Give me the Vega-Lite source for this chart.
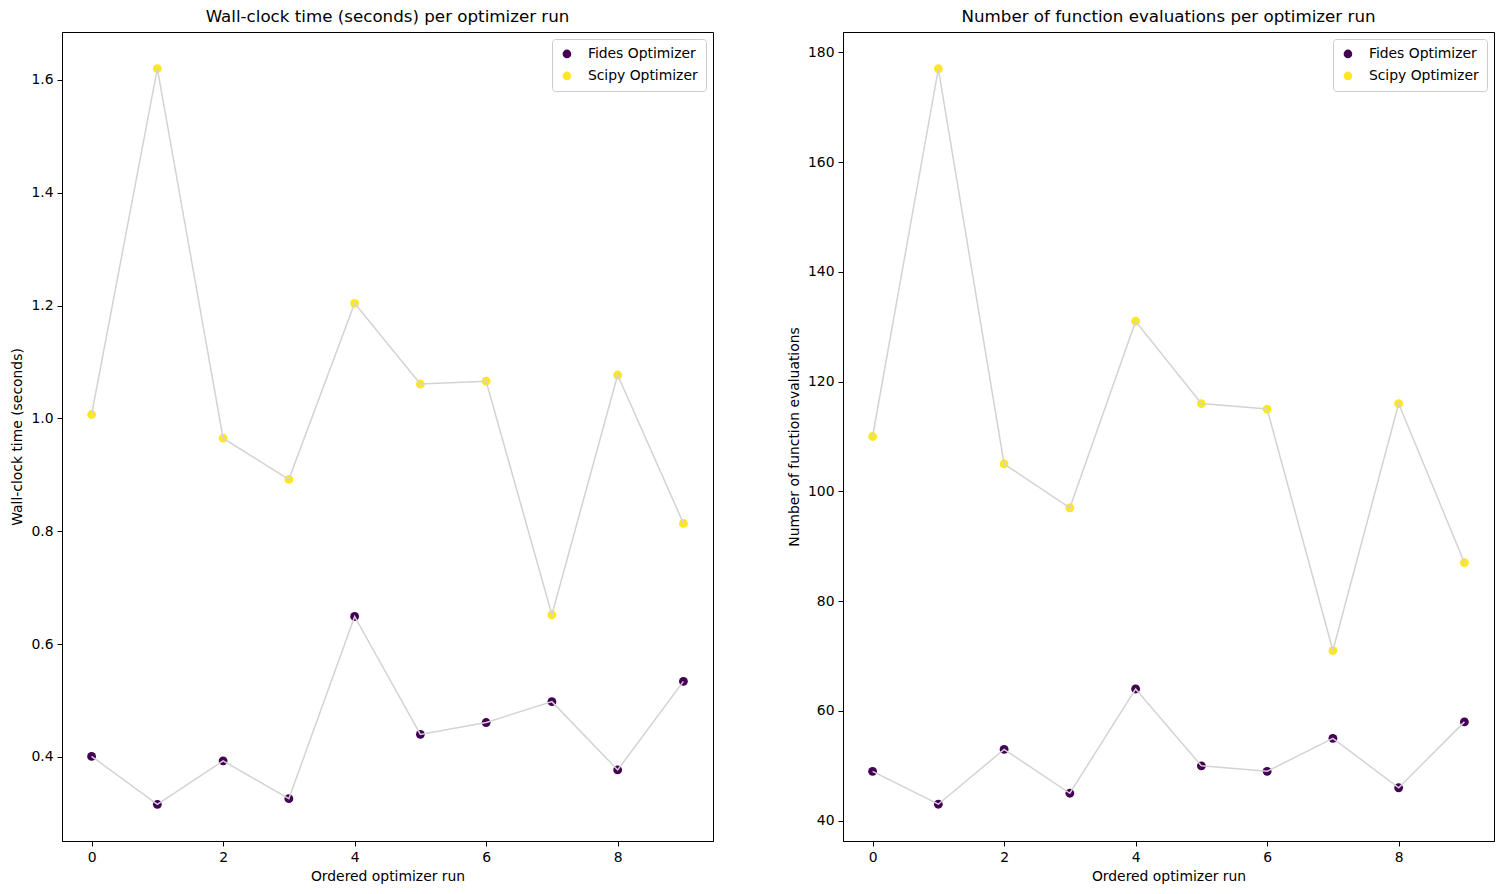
{
  "$schema": "https://vega.github.io/schema/vega-lite/v6.json",
  "padding": {"left": 10, "top": 8, "right": 8, "bottom": 8},
  "background": "white",
  "config": {
    "font": "DejaVu Sans",
    "view": {"stroke": "black", "strokeWidth": 1},
    "axis": {
      "grid": false,
      "domainColor": "black",
      "tickColor": "black",
      "tickSize": 5,
      "labelFont": "DejaVu Sans",
      "labelFontSize": 13.9,
      "labelColor": "black",
      "titleFont": "DejaVu Sans",
      "titleFontSize": 13.9,
      "titleFontWeight": "normal",
      "titleColor": "black",
      "labelPadding": 4,
      "titlePadding": 6
    },
    "title": {"font": "DejaVu Sans", "fontSize": 16.7, "fontWeight": "normal", "color": "black", "offset": 6},
    "legend": {
      "orient": "top-right",
      "offset": 7,
      "fillColor": "white",
      "strokeColor": "#cccccc",
      "cornerRadius": 3,
      "padding": 8,
      "labelFont": "DejaVu Sans",
      "labelFontSize": 13.9,
      "labelColor": "black",
      "labelOffset": 14,
      "symbolSize": 75,
      "symbolType": "circle",
      "rowPadding": 7
    }
  },
  "data": {
    "values": [
      {"run": 0, "optimizer": "Fides Optimizer", "time": 0.401, "fevals": 49},
      {"run": 1, "optimizer": "Fides Optimizer", "time": 0.316, "fevals": 43},
      {"run": 2, "optimizer": "Fides Optimizer", "time": 0.393, "fevals": 53},
      {"run": 3, "optimizer": "Fides Optimizer", "time": 0.326, "fevals": 45},
      {"run": 4, "optimizer": "Fides Optimizer", "time": 0.649, "fevals": 64},
      {"run": 5, "optimizer": "Fides Optimizer", "time": 0.440, "fevals": 50},
      {"run": 6, "optimizer": "Fides Optimizer", "time": 0.461, "fevals": 49},
      {"run": 7, "optimizer": "Fides Optimizer", "time": 0.498, "fevals": 55},
      {"run": 8, "optimizer": "Fides Optimizer", "time": 0.377, "fevals": 46},
      {"run": 9, "optimizer": "Fides Optimizer", "time": 0.534, "fevals": 58},
      {"run": 0, "optimizer": "Scipy Optimizer", "time": 1.007, "fevals": 110},
      {"run": 1, "optimizer": "Scipy Optimizer", "time": 1.620, "fevals": 177},
      {"run": 2, "optimizer": "Scipy Optimizer", "time": 0.965, "fevals": 105},
      {"run": 3, "optimizer": "Scipy Optimizer", "time": 0.892, "fevals": 97},
      {"run": 4, "optimizer": "Scipy Optimizer", "time": 1.204, "fevals": 131},
      {"run": 5, "optimizer": "Scipy Optimizer", "time": 1.061, "fevals": 116},
      {"run": 6, "optimizer": "Scipy Optimizer", "time": 1.066, "fevals": 115},
      {"run": 7, "optimizer": "Scipy Optimizer", "time": 0.652, "fevals": 71},
      {"run": 8, "optimizer": "Scipy Optimizer", "time": 1.077, "fevals": 116},
      {"run": 9, "optimizer": "Scipy Optimizer", "time": 0.814, "fevals": 87}
    ]
  },
  "resolve": {"legend": {"color": "independent"}, "scale": {"color": "independent"}},
  "spacing": 72,
  "hconcat": [
    {
      "width": 651,
      "height": 809,
      "title": "Wall-clock time (seconds) per optimizer run",
      "layer": [
        {
          "mark": {"type": "point", "filled": true, "opacity": 1, "size": 78, "shape": "circle"},
          "encoding": {
            "x": {"field": "run", "type": "quantitative", "title": "Ordered optimizer run",
                  "scale": {"domain": [-0.45, 9.45], "nice": false, "zero": false},
                  "axis": {"values": [0, 2, 4, 6, 8], "format": "d"}},
            "y": {"field": "time", "type": "quantitative", "title": "Wall-clock time (seconds)",
                  "scale": {"domain": [0.251, 1.685], "nice": false, "zero": false},
                  "axis": {"values": [0.4, 0.6, 0.8, 1.0, 1.2, 1.4, 1.6], "format": ".1f"}},
            "color": {"field": "optimizer", "type": "nominal", "title": null,
                      "scale": {"domain": ["Fides Optimizer", "Scipy Optimizer"], "range": ["#440154", "#fde725"]}}
          }
        },
        {
          "mark": {"type": "line", "color": "#d3d3d3", "strokeWidth": 1.5},
          "encoding": {
            "x": {"field": "run", "type": "quantitative"},
            "y": {"field": "time", "type": "quantitative"},
            "detail": {"field": "optimizer"}
          }
        }
      ]
    },
    {
      "width": 651,
      "height": 809,
      "title": "Number of function evaluations per optimizer run",
      "layer": [
        {
          "mark": {"type": "point", "filled": true, "opacity": 1, "size": 78, "shape": "circle"},
          "encoding": {
            "x": {"field": "run", "type": "quantitative", "title": "Ordered optimizer run",
                  "scale": {"domain": [-0.45, 9.45], "nice": false, "zero": false},
                  "axis": {"values": [0, 2, 4, 6, 8], "format": "d"}},
            "y": {"field": "fevals", "type": "quantitative", "title": "Number of function evaluations",
                  "scale": {"domain": [36.3, 183.7], "nice": false, "zero": false},
                  "axis": {"values": [40, 60, 80, 100, 120, 140, 160, 180], "format": "d"}},
            "color": {"field": "optimizer", "type": "nominal", "title": null,
                      "scale": {"domain": ["Fides Optimizer", "Scipy Optimizer"], "range": ["#440154", "#fde725"]}}
          }
        },
        {
          "mark": {"type": "line", "color": "#d3d3d3", "strokeWidth": 1.5},
          "encoding": {
            "x": {"field": "run", "type": "quantitative"},
            "y": {"field": "fevals", "type": "quantitative"},
            "detail": {"field": "optimizer"}
          }
        }
      ]
    }
  ]
}
